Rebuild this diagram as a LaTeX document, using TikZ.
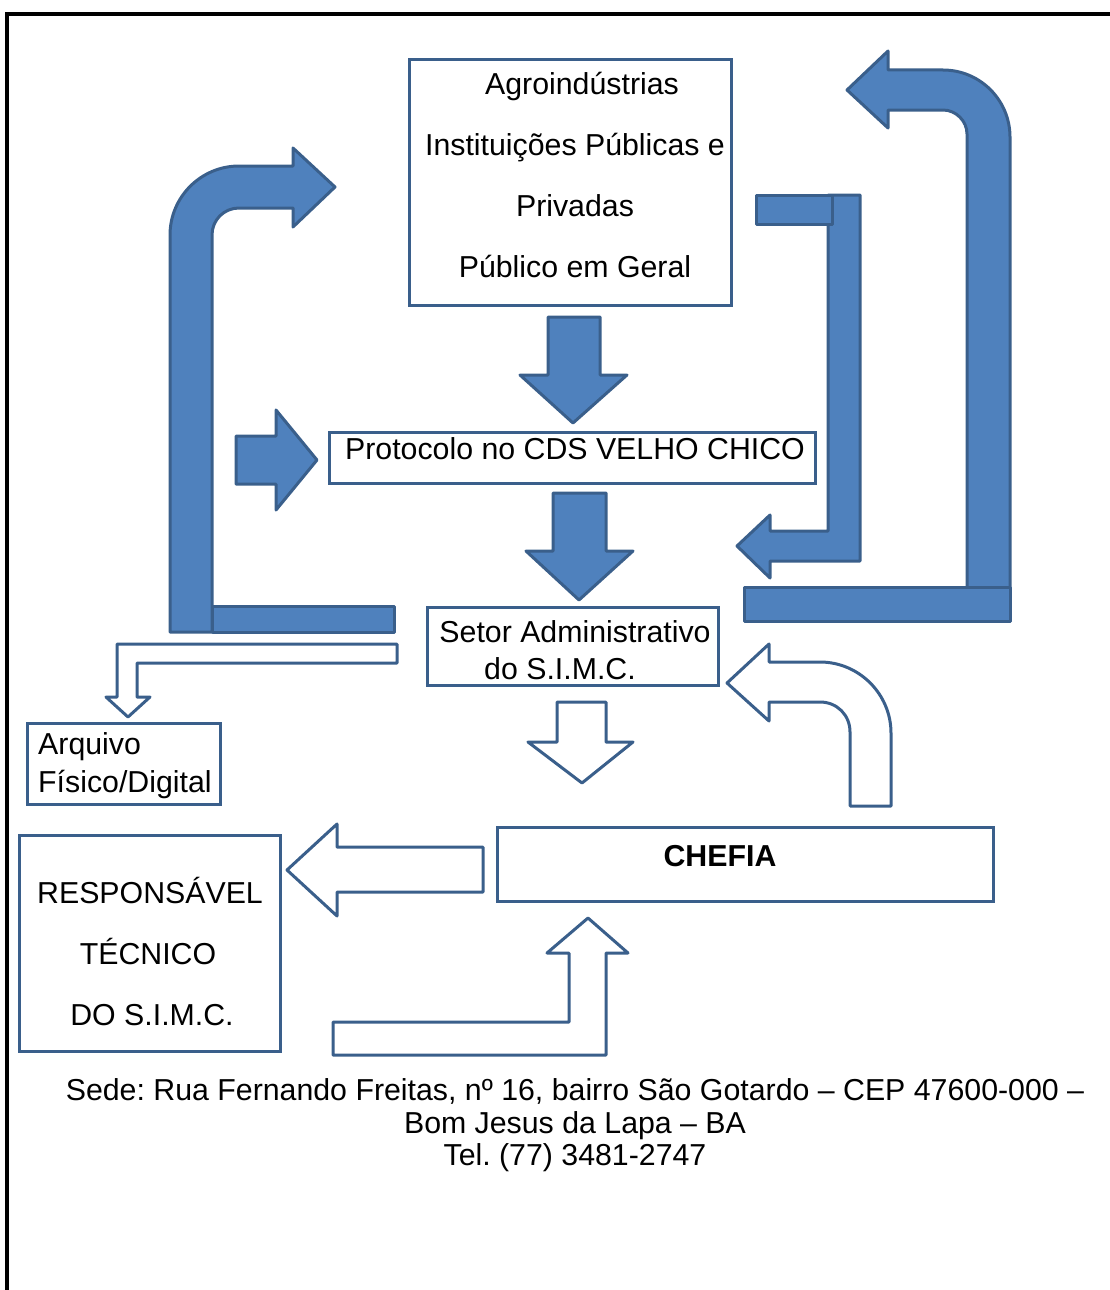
\documentclass[tikz,border=0pt]{standalone}
\usepackage{fontspec}
\setmainfont{Liberation Sans}
\frenchspacing
\definecolor{fillblue}{HTML}{4F81BD}
\definecolor{lineblue}{HTML}{3A5F8B}
\tikzset{
  box/.style={draw=lineblue, line width=3pt, fill=white, inner sep=0pt},
  txt/.style={font=\fontsize{30.3}{34}\selectfont, inner sep=0pt, anchor=base},
  solidarrow/.style={draw=lineblue, fill=fillblue, line width=3pt, line join=round},
  hollowarrow/.style={draw=lineblue, fill=white, line width=3pt, line join=round},
  frameline/.style={draw=black, line width=4pt}
}
\begin{document}
\begin{tikzpicture}[x=1pt,y=-1pt]
\useasboundingbox (0,0) rectangle (1110,1290);
% outer frame
\draw[frameline] (7,1292) -- (7,14) -- (1112,14);

% boxes
\node[box, minimum width=322pt, minimum height=245pt] (top) at (570,182.5) {};
\node[box, minimum width=486pt, minimum height=51pt] (proto) at (572,457.5) {};
\node[box, minimum width=291pt, minimum height=78pt] (setor) at (572.5,646) {};
\node[box, minimum width=193pt, minimum height=81pt] (arq) at (123.5,763.5) {};
\node[box, minimum width=496pt, minimum height=74pt] (chefia) at (745,864) {};
\node[box, minimum width=261pt, minimum height=216pt] (resp) at (149.5,943) {};

% texts
\node[txt] (t1) at (582,94) {Agroindústrias};
\node[txt] (t2) at (575,155) {Instituições Públicas e};
\node[txt] (t3) at (575,216) {Privadas};
\node[txt] (t4) at (575,277) {Público em Geral};
\node[txt] (p1) at (575,459) {Protocolo no CDS VELHO CHICO};
\node[txt] (s1) at (575,642) {Setor Administrativo};
\node[txt] (s2) at (560,679) {do S.I.M.C.};
\node[txt, anchor=base west] (a1) at (38,754) {Arquivo};
\node[txt, anchor=base west] (a2) at (38,792) {Físico/Digital};
\node[txt, font=\fontsize{30.3}{34}\selectfont\bfseries] (c1) at (720,866) {CHEFIA};
\node[txt] (r1) at (150,903) {RESPONSÁVEL};
\node[txt] (r2) at (148,964) {TÉCNICO};
\node[txt] (r3) at (152,1025) {DO S.I.M.C.};
\node[txt] (b1) at (575,1100) {Sede: Rua Fernando Freitas, nº 16, bairro São Gotardo – CEP 47600-000 –};
\node[txt] (b2) at (575,1133) {Bom Jesus da Lapa – BA};
\node[txt] (b3) at (575,1165) {Tel. (77) 3481-2747};

% solid down arrows
\draw[solidarrow] (548,317) -- (600,317) -- (600,375) -- (627,375) -- (573,423) -- (520,375) -- (548,375) -- cycle;
\draw[solidarrow] (553,493) -- (606,493) -- (606,551) -- (633,551) -- (579,600) -- (526,551) -- (553,551) -- cycle;
% small right arrow
\draw[solidarrow] (236,436) -- (276,436) -- (276,410) -- (317,460) -- (276,510) -- (276,484) -- (236,484) -- cycle;
% left big bent arrow
\draw[solidarrow] (170,632) -- (170,235) .. controls (170,197) and (201,166) .. (239,166)
  -- (293,166) -- (293,148) -- (335,187) -- (293,227) -- (293,208) -- (239,208)
  .. controls (224,208) and (212,220) .. (212,235) -- (212,632) -- cycle;
\draw[solidarrow] (212,606) rectangle (394,632);
% right big bent arrow
\draw[solidarrow] (1010,621) -- (1010,137) .. controls (1010,100) and (980,70) .. (943,70)
  -- (888,70) -- (888,51) -- (847,90) -- (888,128) -- (888,110) -- (943,110)
  .. controls (956,110) and (967,121) .. (967,134) -- (967,621) -- cycle;
\draw[solidarrow] (744,587) rectangle (1010,621);
% middle right arrow
\draw[solidarrow] (828,195) -- (860,195) -- (860,561) -- (770,561) -- (770,578) -- (737,546)
  -- (770,515) -- (770,531) -- (828,531) -- cycle;
\draw[solidarrow] (756,195) rectangle (832,224);

% hollow arrows
\draw[hollowarrow] (557,702) -- (606,702) -- (606,742) -- (633,742) -- (582,783) -- (528,742) -- (557,742) -- cycle;
\draw[hollowarrow] (891,806) -- (891,733) .. controls (891,694) and (859,662) .. (820,662)
  -- (769,662) -- (769,644) -- (727,683) -- (769,721) -- (769,702) -- (820,702)
  .. controls (837,702) and (850,715) .. (850,732) -- (850,806) -- cycle;
\draw[hollowarrow] (483,847) -- (337,847) -- (337,824) -- (287,870) -- (337,916) -- (337,892) -- (483,892) -- cycle;
\draw[hollowarrow] (333,1022) -- (569,1022) -- (569,953) -- (547,953) -- (588,918) -- (628,953)
  -- (606,953) -- (606,1055) -- (333,1055) -- cycle;
\draw[hollowarrow] (397,644) -- (397,663) -- (137,663) -- (137,697) -- (150,697) -- (128,717)
  -- (106,697) -- (117,697) -- (117,644) -- cycle;
\end{tikzpicture}
\end{document}
